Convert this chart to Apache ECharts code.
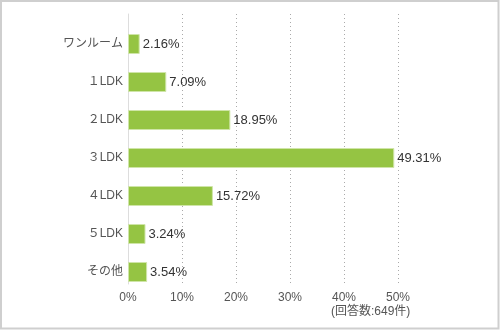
<!DOCTYPE html>
<html>
<head>
<meta charset="utf-8">
<script src="https://cdn.jsdelivr.net/npm/echarts@6/dist/echarts.min.js"></script>
<style>html,body{margin:0;padding:0;background:#fff}#c{width:500px;height:331px}</style>
</head>
<body>
<div id="c"></div>
<script>
const categories = ['ワンルーム', '１LDK', '２LDK', '３LDK', '４LDK', '５LDK', 'その他'];
const values = [2.16, 7.09, 18.95, 49.31, 15.72, 3.24, 3.54];
const xTicks = [0, 10, 20, 30, 40, 50];
const note = '(回答数:649件)';

const FONT = '"Liberation Sans", "Noto Sans CJK JP", sans-serif';
const chart = echarts.init(document.getElementById('c'));
chart.setOption({
  animation: false,
  backgroundColor: '#fff',
  grid: [
    {left: 128, top: 14, width: 270, height: 270},
    {left: 128, top: 25, width: 270, height: 266}
  ],
  xAxis: [
    {gridIndex: 0, type: 'value', min: xTicks[0], max: xTicks[xTicks.length - 1], interval: 10,
     axisLine: {show: false}, axisTick: {show: false},
     axisLabel: {formatter: '{value}%', color: '#555', fontSize: 12, fontFamily: FONT, margin: 8},
     splitLine: {show: true, lineStyle: {color: '#aaa', type: [1, 3], width: 1}}},
    {gridIndex: 1, type: 'value', min: 0, max: 50, show: false}
  ],
  yAxis: [
    {gridIndex: 0, type: 'value', show: true, axisLine: {show: true, lineStyle: {color: '#ddd', width: 1}},
     axisLabel: {show: false}, axisTick: {show: false}, splitLine: {show: false}},
    {gridIndex: 1, type: 'category', data: categories, inverse: true,
     axisLine: {show: false}, axisTick: {show: false},
     axisLabel: {color: '#555', fontSize: 12, fontFamily: FONT, margin: 5}}
  ],
  series: [{
    type: 'bar', xAxisIndex: 1, yAxisIndex: 1, data: values, barWidth: 20,
    itemStyle: {color: '#95c443', borderColor: '#cfe5a8', borderWidth: 1},
    label: {show: true, position: 'right', distance: 3, formatter: p => p.value.toFixed(2) + '%',
            color: '#333', fontSize: 13, fontFamily: FONT}
  }],
  graphic: [
    {type: 'rect', shape: {x: 1, y: 1, width: 497.5, height: 327.5}, style: {fill: 'none', stroke: '#cfcfcf', lineWidth: 2}, silent: true},
    {type: 'text', left: 331, top: 306, style: {text: note, fill: '#555', fontSize: 12, fontFamily: FONT}}
  ]
});
</script>
</body>
</html>
